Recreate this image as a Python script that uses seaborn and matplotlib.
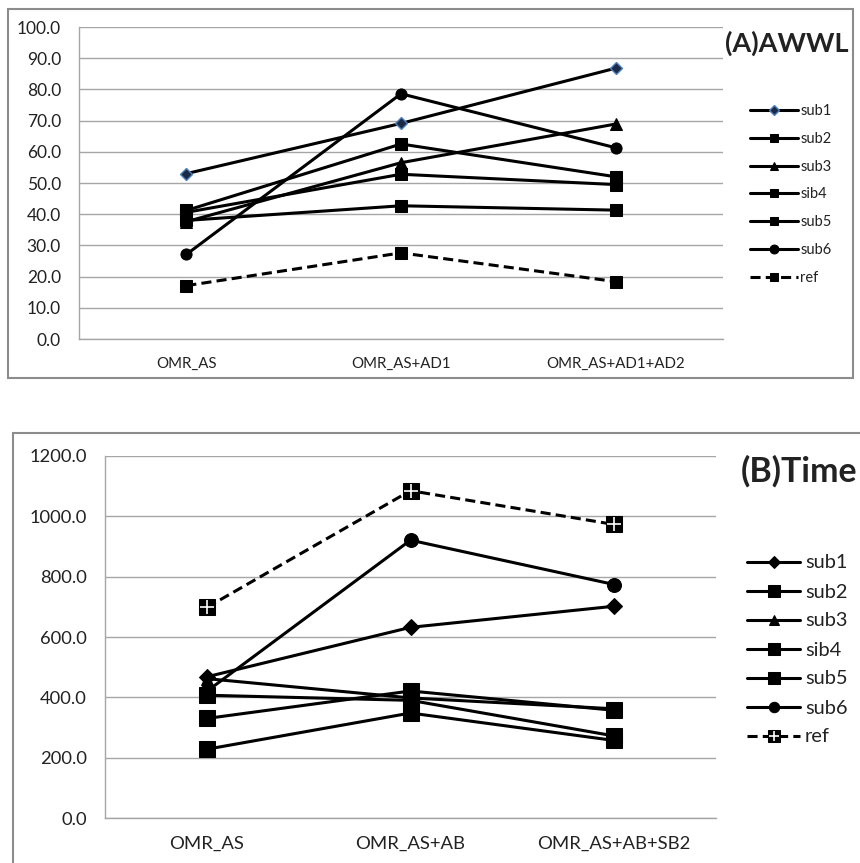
import seaborn as sns
import matplotlib.pyplot as plt
from matplotlib.patches import Rectangle

# categories
cats_a = ['OMR_AS', 'OMR_AS+AD1', 'OMR_AS+AD1+AD2']
cats_b = ['OMR_AS', 'OMR_AS+AB', 'OMR_AS+AB+SB2']
names = ['sub1', 'sub2', 'sub3', 'sib4', 'sub5', 'sub6', 'ref']

# (A) AWWL
awwl_sub1 = [53.0, 69.1, 86.8]
awwl_sub2 = [41.2, 62.5, 52.0]
awwl_sub3 = [37.6, 56.5, 68.9]
awwl_sib4 = [40.6, 52.8, 49.5]
awwl_sub5 = [38.0, 42.7, 41.3]
awwl_sub6 = [27.1, 78.6, 61.3]
awwl_ref = [17.1, 27.6, 18.4]

# (B) Time
time_sub1 = [468.0, 632.0, 702.0]
time_sub2 = [330.0, 421.0, 357.0]
time_sub3 = [462.0, 398.0, 362.0]
time_sib4 = [407.0, 390.0, 272.0]
time_sub5 = [228.0, 348.0, 257.0]
time_sub6 = [420.0, 921.0, 774.0]
time_ref = [698.0, 1085.0, 973.0]

awwl = [awwl_sub1, awwl_sub2, awwl_sub3, awwl_sib4, awwl_sub5, awwl_sub6, awwl_ref]
time = [time_sub1, time_sub2, time_sub3, time_sib4, time_sub5, time_sub6, time_ref]

sns.set_theme(style='white')
plt.rcParams['font.family'] = ['Lato', 'DejaVu Sans']
plt.rcParams['text.color'] = '#222222'
plt.rcParams['xtick.color'] = '#222222'
plt.rcParams['ytick.color'] = '#222222'

W, H = 860, 863
GRAY = '#a6a6a6'
DASH = (0, (3.3, 1.7))


def box(x0, y0, x1, y1):
    # pixel box (top-left origin) -> figure fraction
    return [x0 / W, 1 - y1 / H, (x1 - x0) / W, (y1 - y0) / H]


def style_axes(ax, cats, ymax, ystep, yfs, xfs):
    ax.set_xlim(-0.5, 2.5)
    ax.set_ylim(0, ymax)
    ax.set_xticks([0, 1, 2])
    ax.set_xticklabels(cats, fontsize=xfs)
    ax.set_xticks([-0.5, 0.5, 1.5, 2.5], minor=True)
    ax.set_yticks([i * ystep for i in range(int(ymax / ystep) + 1)])
    ax.set_yticklabels(['%.1f' % (i * ystep) for i in range(int(ymax / ystep) + 1)], fontsize=yfs)
    ax.tick_params(axis='x', which='major', length=0, pad=13)
    ax.tick_params(axis='x', which='minor', length=5, width=1, color=GRAY, direction='out')
    ax.tick_params(axis='y', length=5, width=1, color=GRAY, direction='out', pad=8)
    ax.yaxis.grid(True, color=GRAY, lw=1)
    ax.xaxis.grid(False)
    ax.set_axisbelow(True)
    for s in ['top', 'right']:
        ax.spines[s].set_visible(False)
    for s in ['left', 'bottom']:
        ax.spines[s].set_color(GRAY)
        ax.spines[s].set_linewidth(1)
    ax.set_xlabel('')
    ax.set_ylabel('')


fig = plt.figure(figsize=(8.6, 8.63), dpi=100)

# chart area frames
fig.patches.append(Rectangle((8 / W, 1 - 378 / H), 845 / W, 369 / H, transform=fig.transFigure,
                             fill=False, edgecolor='#8c8c8c', lw=1.5))
fig.patches.append(Rectangle((13 / W, -0.05), 0.99, 1 - 433 / H + 0.05, transform=fig.transFigure,
                             fill=False, edgecolor='#8c8c8c', lw=1.5))

ax_a = fig.add_axes(box(79, 27, 723, 339))
ax_b = fig.add_axes(box(105, 456, 716, 818))

style_a = {
    'sub1': dict(marker='D', markersize=6, markerfacecolor='#1b2a47', markeredgecolor='#4f81bd', markeredgewidth=1),
    'sub2': dict(marker='s', markersize=8),
    'sub3': dict(marker='^', markersize=8),
    'sib4': dict(marker='s', markersize=8),
    'sub5': dict(marker='s', markersize=8),
    'sub6': dict(marker='o', markersize=8),
    'ref': dict(marker='s', markersize=8, linestyle=DASH),
}
style_b = {
    'sub1': dict(marker='D', markersize=8),
    'sub2': dict(marker='s', markersize=11),
    'sub3': dict(marker='^', markersize=9),
    'sib4': dict(marker='s', markersize=11),
    'sub5': dict(marker='s', markersize=11),
    'sub6': dict(marker='o', markersize=10),
    'ref': dict(marker='s', markersize=11, linestyle=DASH),
}

for name, vals in zip(names, awwl):
    kw = dict(markerfacecolor='black', markeredgecolor='black')
    kw.update(style_a[name])
    sns.lineplot(x=cats_a, y=vals, ax=ax_a, color='black', linewidth=2.2, label=name,
                 sort=False, errorbar=None, **kw)

for name, vals in zip(names, time):
    kw = dict(markerfacecolor='black', markeredgecolor='black')
    kw.update(style_b[name])
    sns.lineplot(x=cats_b, y=vals, ax=ax_b, color='black', linewidth=2.2, label=name,
                 sort=False, errorbar=None, **kw)
# light blue cross on the ref squares
sns.lineplot(x=cats_b, y=time_ref, ax=ax_b, color='#7ea3d6', linestyle='none', marker='+',
             markersize=10, markeredgewidth=1.2, sort=False, errorbar=None, legend=False)
plus = ax_b.lines[-1]

style_axes(ax_a, cats_a, 100, 10, 12.5, 10.8)
style_axes(ax_b, cats_b, 1200, 200, 13.2, 13.3)

h, l = ax_a.get_legend_handles_labels()
ax_a.legend(h, l, loc='center left', bbox_to_anchor=(750 / W, 1 - 194.5 / H), bbox_transform=fig.transFigure,
            frameon=False, fontsize=10.5, handlelength=3.3, handletextpad=0.15, labelspacing=0.95,
            borderpad=0, borderaxespad=0, markerscale=0.8)

h, l = ax_b.get_legend_handles_labels()
h[-1] = (h[-1], plus)
ax_b.legend(h, l, loc='center left', bbox_to_anchor=(747 / W, 1 - 650 / H), bbox_transform=fig.transFigure,
            frameon=False, fontsize=14.4, handlelength=2.65, handletextpad=0.25, labelspacing=0.6,
            borderpad=0, borderaxespad=0, markerscale=0.75)

fig.text(848 / W, 1 - 43 / H, '(A)AWWL', ha='right', va='center', fontsize=19.5, fontweight='bold')
fig.text(741 / W, 1 - 471 / H, '(B)Time', ha='left', va='center', fontsize=24.5, fontweight='bold')

fig.savefig('out.png', dpi=100)
